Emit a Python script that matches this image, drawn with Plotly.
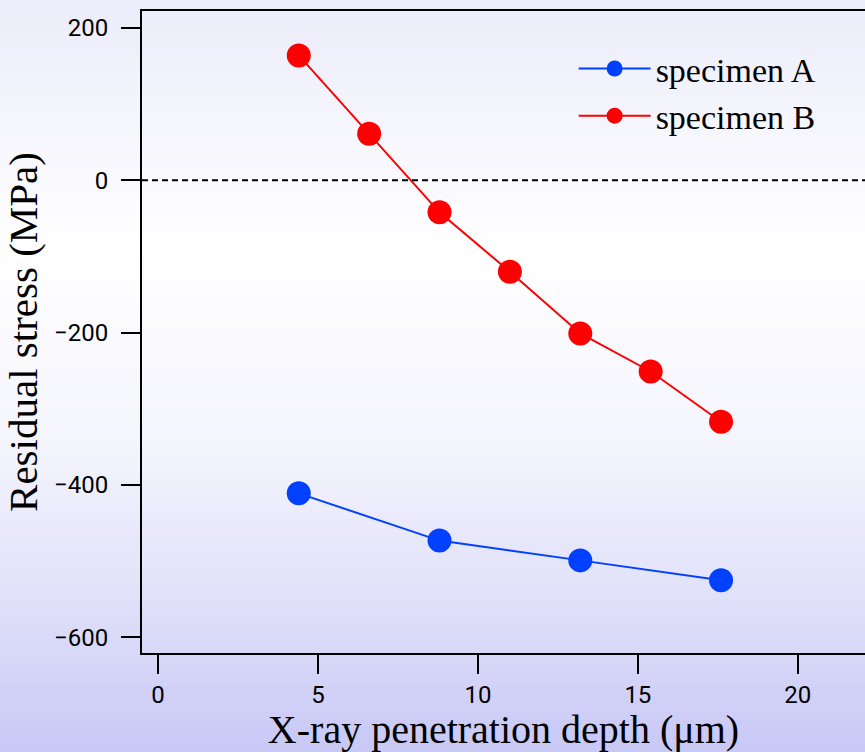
import plotly.graph_objects as go

# ---- data ----
depth_A = [4.4, 8.8, 13.2, 17.6]
stress_A = [-411, -473, -499, -525]
depth_B = [4.4, 6.6, 8.8, 11.0, 13.2, 15.4, 17.6]
stress_B = [164, 61, -42, -120, -201, -251, -317]
x_ticks = [0, 5, 10, 15, 20]
y_ticks = [200, 0, -200, -400, -600]

W, H = 865, 752
ML, MR, MT, MB = 142, 0, 11, 99
PW, PH = W - ML - MR, H - MT - MB

fig = go.Figure()
fig.add_trace(go.Scatter(x=depth_A, y=stress_A, mode="lines+markers", name="specimen A",
                         line=dict(color="#0040ff", width=2),
                         marker=dict(color="#0040ff", size=24)))
fig.add_trace(go.Scatter(x=depth_B, y=stress_B, mode="lines+markers", name="specimen B",
                         line=dict(color="#ff0000", width=2),
                         marker=dict(color="#ff0000", size=24)))

# background gradient (styling)
stops = [(0, (236, 236, 251)), (250, (255, 255, 255)), (450, (244, 244, 253)),
         (600, (224, 224, 250)), (752, (200, 200, 246))]
def col(py):
    for (a, ca), (b, cb) in zip(stops[:-1], stops[1:]):
        if a <= py <= b:
            t = (py - a) / (b - a)
            return "rgb(%d,%d,%d)" % tuple(round(ca[i] + (cb[i] - ca[i]) * t) for i in range(3))
    return "rgb(200,200,246)"
shapes = []
step = 8
for py in range(0, H, step):
    shapes.append(dict(type="rect", xref="paper", yref="paper",
                       x0=-ML / PW - 0.01, x1=1.01,
                       y0=(H - MB - py - step) / PH, y1=(H - MB - py) / PH + 0.001,
                       fillcolor=col(py + step / 2), line=dict(width=0), layer="below"))
# zero reference line
shapes.append(dict(type="line", xref="paper", yref="y", x0=0, x1=1, y0=0, y1=0,
                   line=dict(color="black", width=2, dash="6px,4px")))

tickfont = dict(family="Liberation Sans Narrow, Roboto, sans-serif", size=24, color="black")
serif = "Liberation Serif, Times New Roman, serif"

fig.update_layout(
    width=W, height=H,
    margin=dict(l=ML, r=MR, t=MT, b=MB, autoexpand=False),
    paper_bgcolor="white", plot_bgcolor="rgba(0,0,0,0)",
    shapes=shapes,
    showlegend=True,
    legend=dict(x=0.597, y=0.955, xanchor="left", yanchor="top",
                bgcolor="rgba(0,0,0,0)", itemwidth=72,
                font=dict(family=serif, size=34, color="black")),
    xaxis=dict(range=[-0.5, 22.1], tickvals=x_ticks, ticks="outside", ticklen=19,
               tickwidth=2, tickcolor="black", showline=True, linecolor="black",
               linewidth=2, mirror=True, showgrid=False, zeroline=False,
               tickfont=tickfont, ticklabelstandoff=0,
               title=dict(text="X-ray penetration depth (μm)", standoff=12,
                          font=dict(family=serif, size=40, color="black"))),
    yaxis=dict(range=[-620.6, 222.3], tickvals=y_ticks, ticks="outside", ticklen=19,
               tickwidth=2, tickcolor="black", showline=True, linecolor="black",
               linewidth=2, mirror=False, showgrid=False, zeroline=False,
               tickfont=tickfont, ticklabelstandoff=8,
               title=dict(text="Residual stress (MPa)", standoff=8,
                          font=dict(family=serif, size=41, color="black"))),
)

fig.write_html("out.html")
